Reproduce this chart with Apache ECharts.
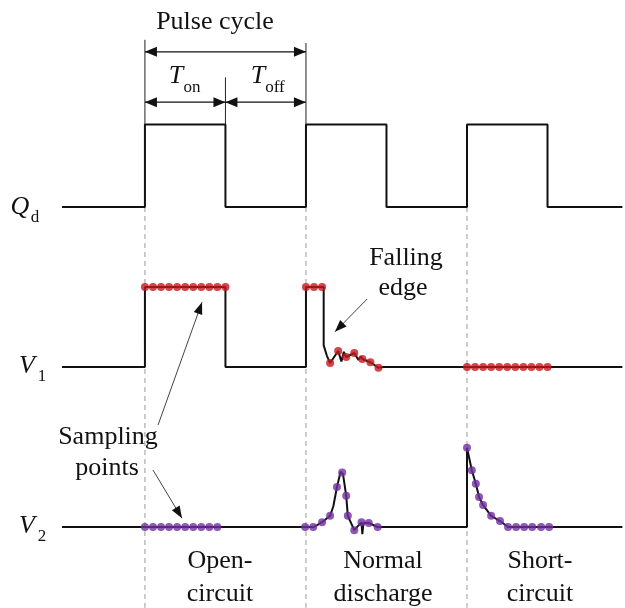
<!DOCTYPE html>
<html>
<head>
<meta charset="utf-8">
<script src="https://cdn.jsdelivr.net/npm/echarts@6/dist/echarts.min.js"></script>
<style>
  html, body { margin: 0; padding: 0; background: #fff; }
  #chart { width: 625px; height: 608px; }
</style>
</head>
<body>
<div id="chart"></div>
<script>
// Time is measured in units of T_on (T_on = T_off = 1, pulse cycle = 2).
// Levels are normalised amplitudes; each channel sits on its own baseline.

const qdWave = [[-1.03, 0], [0, 0], [0, 1.03], [1, 1.03], [1, 0], [2, 0], [2, 1.03], [3, 1.03],
                [3, 0], [4, 0], [4, 1.03], [5, 1.03], [5, 0], [5.93, 0]];

const v1Wave = [[-1.03, 0], [0, 0], [0, 1], [1, 1], [1, 0], [2, 0], [2, 1], [2.22, 1],
                [2.22, 0.27], [2.26, 0.14], [2.3, 0.05], [2.4, 0.2], [2.44, 0.07], [2.47, 0.19],
                [2.5, 0.125], [2.6, 0.175], [2.65, 0.09], [2.68, 0.13], [2.7, 0.1], [2.8, 0.06],
                [2.9, -0.01], [2.96, 0], [5.93, 0]];

const v2Wave = [[-1.03, 0], [2.1, 0], [2.2, 0.06], [2.3, 0.14], [2.34, 0.26], [2.385, 0.5],
                [2.43, 0.69], [2.46, 0.66], [2.5, 0.39], [2.52, 0.14], [2.6, -0.04], [2.69, 0.06],
                [2.7, -0.09], [2.715, 0.05], [2.78, 0.05], [2.89, 0], [4, 0], [4, 0.99],
                [4.06, 0.71], [4.11, 0.54], [4.15, 0.375], [4.2, 0.275], [4.3, 0.14],
                [4.41, 0.075], [4.51, 0], [5.93, 0]];

const v1Samples = [[0, 1], [0.1, 1], [0.2, 1], [0.3, 1], [0.4, 1], [0.5, 1], [0.6, 1], [0.7, 1],
                   [0.8, 1], [0.9, 1], [1, 1],
                   [2, 1], [2.1, 1], [2.2, 1], [2.3, 0.05], [2.4, 0.2], [2.5, 0.125], [2.6, 0.175],
                   [2.7, 0.1], [2.8, 0.06], [2.9, -0.01],
                   [4, 0], [4.1, 0], [4.2, 0], [4.3, 0], [4.4, 0], [4.5, 0], [4.6, 0], [4.7, 0],
                   [4.8, 0], [4.9, 0], [5, 0]];

const v2Samples = [[0, 0], [0.1, 0], [0.2, 0], [0.3, 0], [0.4, 0], [0.5, 0], [0.6, 0], [0.7, 0],
                   [0.8, 0], [0.9, 0],
                   [1.99, 0], [2.09, 0], [2.2, 0.06], [2.3, 0.14], [2.385, 0.5], [2.45, 0.68],
                   [2.5, 0.39], [2.52, 0.14], [2.6, -0.04], [2.69, 0.06], [2.78, 0.05], [2.89, 0],
                   [4, 0.99], [4.06, 0.71], [4.11, 0.54], [4.15, 0.375], [4.2, 0.275], [4.3, 0.14],
                   [4.41, 0.075], [4.51, 0], [4.61, 0], [4.71, 0], [4.81, 0], [4.92, 0], [5.02, 0]];

const pulseEdges = [0, 2, 4];          // start of each observed pulse
const tOn = 1, tOff = 1;

const channelNames = ['Q', 'V', 'V'];
const channelSubs = ['d', '1', '2'];
const regionLabels = [['Open-', 'circuit'], ['Normal', 'discharge'], ['Short-', 'circuit']];
const titleText = 'Pulse cycle';
const onLabel = ['T', 'on'];
const offLabel = ['T', 'off'];
const edgeNote = ['Falling', 'edge'];
const sampleNote = ['Sampling', 'points'];

// vertical placement of the three channels
const BASE = { qd: 4, v1: 2, v2: 0 };
const shift = (arr, b) => arr.map(p => [p[0], p[1] + b]);

const SERIF = '"Liberation Serif", "DejaVu Serif", serif';
const INK = '#111';

const qdHigh = BASE.qd + 1.03;
const dimY = BASE.qd + 1.94;
const subY = BASE.qd + 1.31;
const cycleEnd = pulseEdges[0] + tOn + tOff;

// segments as [x1, y1, x2, y2]
const guideSegs = pulseEdges.map(t => [t, BASE.qd, t, -1.01]);
const extSegs = [[pulseEdges[0], qdHigh, pulseEdges[0], BASE.qd + 2.09],
                 [cycleEnd, qdHigh, cycleEnd, BASE.qd + 2.05],
                 [pulseEdges[0] + tOn, qdHigh, pulseEdges[0] + tOn, BASE.qd + 1.62]];
const dimSegs = [[pulseEdges[0], dimY, cycleEnd, dimY],
                 [pulseEdges[0], subY, pulseEdges[0] + tOn, subY],
                 [pulseEdges[0] + tOn, subY, cycleEnd, subY]];
const pointerSegs = [[0.163, 1.275, 0.709, BASE.v1 + 0.81],
                     [0.1, 0.7125, 0.46, 0.11],
                     [2.76, BASE.v1 + 0.85, 2.36, BASE.v1 + 0.44]];

// line segment renderer with optional filled arrowheads
function segRenderer(opt) {
  return function (params, api) {
    const a = api.coord([api.value(0), api.value(1)]);
    const b = api.coord([api.value(2), api.value(3)]);
    const children = [{
      type: 'line',
      shape: { x1: a[0], y1: a[1], x2: b[0], y2: b[1] },
      style: { stroke: opt.color, lineWidth: opt.width, lineDash: opt.dash || null, fill: null }
    }];
    const head = (tip, from) => {
      const dx = tip[0] - from[0], dy = tip[1] - from[1];
      const len = Math.hypot(dx, dy);
      const ux = dx / len, uy = dy / len;
      const bx = tip[0] - ux * opt.headLen, by = tip[1] - uy * opt.headLen;
      return {
        type: 'polygon',
        shape: { points: [tip, [bx - uy * opt.headHalf, by + ux * opt.headHalf],
                          [bx + uy * opt.headHalf, by - ux * opt.headHalf]] },
        style: { fill: opt.headColor || opt.color, stroke: null }
      };
    };
    if (opt.end) children.push(head(b, a));
    if (opt.start) children.push(head(a, b));
    return { type: 'group', children };
  };
}

function segSeries(name, data, opt, z) {
  return { name, type: 'custom', data, silent: true, z, clip: false,
           encode: { x: [0, 2], y: [1, 3] }, renderItem: segRenderer(opt) };
}

const series = [
  segSeries('guides', guideSegs, { color: '#9a9a9a', width: 1, dash: [5, 4] }, 1),
  segSeries('ext', extSegs, { color: '#222', width: 1 }, 2),
  { name: 'Qd', type: 'line', data: shift(qdWave, BASE.qd), showSymbol: false, silent: true,
    lineStyle: { color: INK, width: 2 }, z: 3 },
  { name: 'V1', type: 'line', data: shift(v1Wave, BASE.v1), showSymbol: false, silent: true,
    lineStyle: { color: INK, width: 2 }, z: 3 },
  { name: 'V2', type: 'line', data: shift(v2Wave, BASE.v2), showSymbol: false, silent: true,
    lineStyle: { color: INK, width: 2 }, z: 3 },
  { name: 'V1 samples', type: 'scatter', data: shift(v1Samples, BASE.v1), symbolSize: 8,
    itemStyle: { color: '#c8161d' }, silent: true, z: 4 },
  { name: 'V2 samples', type: 'scatter', data: shift(v2Samples, BASE.v2), symbolSize: 8,
    itemStyle: { color: '#7030a0' }, silent: true, z: 4 },
  segSeries('dims', dimSegs, { color: INK, width: 1.3, headLen: 12, headHalf: 5, start: true, end: true }, 5),
  segSeries('pointers', pointerSegs, { color: '#444', headColor: '#111', width: 1, headLen: 12, headHalf: 4.5, end: true }, 5)
];

function txt(text, x, y, size, italic, align) {
  return { type: 'text', x, y, silent: true, z: 10,
           style: { text, fill: INK, align: align || 'center', verticalAlign: 'middle',
                    font: (italic ? 'italic ' : '') + size + 'px ' + SERIF } };
}

const channelY = [207, 366, 526];
const graphics = [
  txt(titleText, 215, 22, 26),
  txt(onLabel[0], 176, 76, 26, true), txt(onLabel[1], 192, 88, 17),
  txt(offLabel[0], 258, 76, 26, true), txt(offLabel[1], 275, 88, 17),
  txt(edgeNote[0], 406, 258, 26), txt(edgeNote[1], 403, 288, 26),
  txt(sampleNote[0], 108, 437, 26), txt(sampleNote[1], 107, 468, 26)
];
channelNames.forEach((n, i) => {
  graphics.push(txt(n, i === 0 ? 20 : 27, channelY[i], 26, true));
  graphics.push(txt(channelSubs[i], i === 0 ? 35 : 42, channelY[i] + 11, 17));
});
const regionX = [220, 383, 540];
regionLabels.forEach((lines, i) => {
  graphics.push(txt(lines[0], regionX[i], 561, 26));
  graphics.push(txt(lines[1], regionX[i], 594, 26));
});

const chart = echarts.init(document.getElementById('chart'), null, { renderer: 'canvas' });
chart.setOption({
  animation: false,
  backgroundColor: '#fff',
  grid: { left: 0, right: 1, top: 0, bottom: 0 },
  xAxis: { type: 'value', min: -1.8, max: 5.95, show: false },
  yAxis: { type: 'value', min: -1.0125, max: 6.5875, show: false },
  series,
  graphic: graphics
});
</script>
</body>
</html>
